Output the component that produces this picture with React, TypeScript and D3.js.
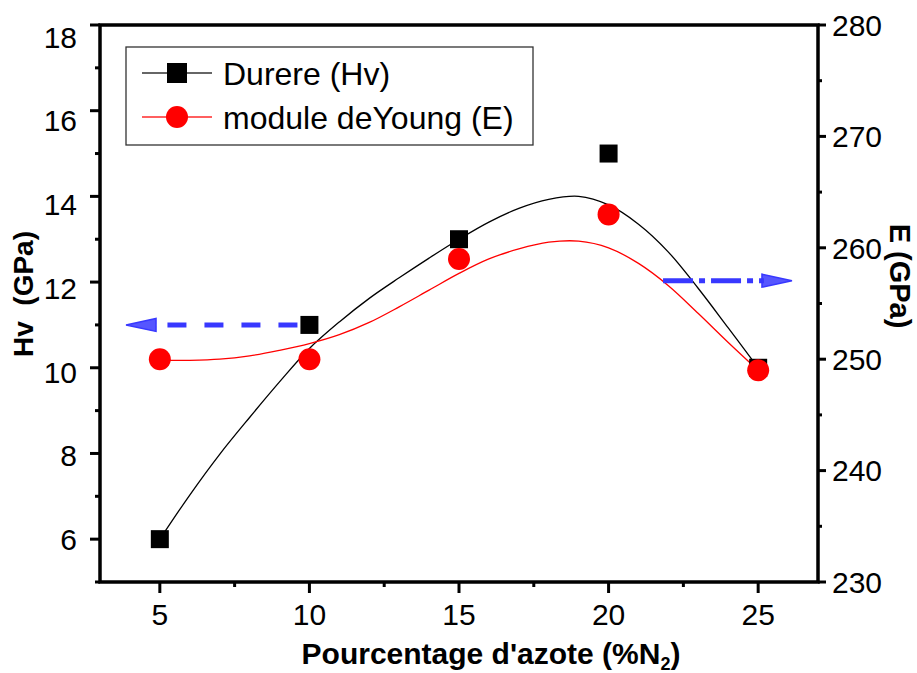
import React, { useEffect } from "react";
import * as d3 from "d3";

// measured points
const nitrogen = [5, 10, 15, 20, 25];
const hardness = [6, 11, 13, 15, 10];
const youngModulus = [250, 250, 259, 263, 249];

// fitted curves
const fitX = [5, 6, 7, 8, 9, 10, 11, 12, 13, 14, 15, 16, 17, 18, 19, 20, 21, 22, 23, 24, 25];
const hardnessFit = [6.0, 7.03, 7.98, 8.84, 9.67, 10.45, 11.07, 11.62, 12.1, 12.56, 13.0, 13.4, 13.72, 13.93, 14.0, 13.8, 13.35, 12.7, 11.85, 10.93, 10.0];
const modulusFit = [249.9, 249.9, 250.0, 250.3, 250.8, 251.4, 252.2, 253.3, 254.7, 256.2, 257.7, 259.0, 259.9, 260.5, 260.6, 260.0, 258.6, 256.6, 254.1, 251.5, 249.0];

const xTicks = [5, 10, 15, 20, 25];
const xMinor = [7.5, 12.5, 17.5, 22.5];
const hvTicks = [6, 8, 10, 12, 14, 16, 18];
const hvMinor = [5, 7, 9, 11, 13, 15, 17];
const eTicks = [230, 240, 250, 260, 270, 280];
const eMinor = [235, 245, 255, 265, 275];

// axis pointers: [from x, to x, value]
const hvPointer = [9.6, 3.87, 11];
const ePointer = [21.82, 26.13, 257.05];

const W = 917;
const H = 673;
const FONT = "'Liberation Sans', Arial, sans-serif";
const BLUE = "#3838ff";

export default function App() {
  useEffect(() => {
    document.body.style.margin = "0";
  }, []);

  const x = d3.scaleLinear().domain([3, 27]).range([100, 818]);
  const yL = d3.scaleLinear().domain([5, 18]).range([582, 25]);
  const yR = d3.scaleLinear().domain([230, 280]).range([582, 25]);

  const hvLine = d3
    .line<number>()
    .x((_, i) => x(fitX[i]))
    .y((d) => yL(d))
    .curve(d3.curveCatmullRom);
  const eLine = d3
    .line<number>()
    .x((_, i) => x(fitX[i]))
    .y((d) => yR(d))
    .curve(d3.curveCatmullRom);

  const [x0, x1] = x.range();
  const [yb, yt] = yL.range();

  // pointer arrows
  const lpY = yL(hvPointer[2]);
  const lpTip = x(hvPointer[1]);
  const lpStart = x(hvPointer[0]);
  const rpY = yR(ePointer[2]);
  const rpTip = x(ePointer[1]);
  const rpStart = x(ePointer[0]);
  const headLen = 30;

  return (
    <svg width={W} height={H} style={{ display: "block", background: "#fff" }} fontFamily={FONT}>
      {/* curves */}
      <path d={hvLine(hardnessFit) ?? ""} fill="none" stroke="#000" strokeWidth={1.3} />
      <path d={eLine(modulusFit) ?? ""} fill="none" stroke="#ff0000" strokeWidth={1.3} />

      {/* arrows */}
      <line x1={lpStart} x2={lpTip + headLen - 2} y1={lpY} y2={lpY} stroke={BLUE} strokeWidth={5} strokeDasharray="19 18" />
      <path
        d={`M${lpTip},${lpY} L${lpTip + headLen},${lpY - 6.5} L${lpTip + headLen},${lpY + 6.5} Z`}
        fill={BLUE}
        fillOpacity={0.85}
        stroke={BLUE}
        strokeWidth={1.5}
      />
      <line x1={rpStart} x2={rpTip - headLen + 2} y1={rpY} y2={rpY} stroke={BLUE} strokeWidth={5} strokeDasharray="30 6 6 6" />
      <path
        d={`M${rpTip},${rpY} L${rpTip - headLen},${rpY - 6.5} L${rpTip - headLen},${rpY + 6.5} Z`}
        fill={BLUE}
        fillOpacity={0.85}
        stroke={BLUE}
        strokeWidth={1.5}
      />

      {/* markers */}
      {nitrogen.map((n, i) => (
        <rect key={"s" + n} x={x(n) - 9} y={yL(hardness[i]) - 9} width={18} height={18} fill="#000" />
      ))}
      {nitrogen.map((n, i) => (
        <circle key={"c" + n} cx={x(n)} cy={yR(youngModulus[i])} r={11} fill="#ff0000" />
      ))}

      {/* frame */}
      <rect x={x0} y={yt} width={x1 - x0} height={yb - yt} fill="none" stroke="#000" strokeWidth={3.5} />

      {/* bottom axis */}
      {xTicks.map((t) => (
        <g key={"xt" + t}>
          <line x1={x(t)} x2={x(t)} y1={yb} y2={yb + 11} stroke="#000" strokeWidth={3} />
          <text x={x(t)} y={yb + 43} textAnchor="middle" fontSize={30}>
            {t}
          </text>
        </g>
      ))}
      {xMinor.map((t) => (
        <line key={"xm" + t} x1={x(t)} x2={x(t)} y1={yb} y2={yb + 5} stroke="#000" strokeWidth={3} />
      ))}

      {/* left axis */}
      {hvTicks.map((t) => (
        <g key={"lt" + t}>
          <line x1={x0 - 10} x2={x0} y1={yL(t)} y2={yL(t)} stroke="#000" strokeWidth={3} />
          <text x={x0 - 23} y={yL(t) + (t - 6)} dy="0.36em" textAnchor="end" fontSize={30}>
            {t}
          </text>
        </g>
      ))}
      {hvMinor.map((t) => (
        <line key={"lm" + t} x1={x0 - 5} x2={x0} y1={yL(t)} y2={yL(t)} stroke="#000" strokeWidth={3} />
      ))}

      {/* right axis */}
      {eTicks.map((t) => (
        <g key={"rt" + t}>
          <line x1={x1} x2={x1 + 8} y1={yR(t)} y2={yR(t)} stroke="#000" strokeWidth={3} />
          <text x={x1 + 14} y={yR(t)} dy="0.36em" textAnchor="start" fontSize={30}>
            {t}
          </text>
        </g>
      ))}
      {eMinor.map((t) => (
        <line key={"rm" + t} x1={x1} x2={x1 + 4} y1={yR(t)} y2={yR(t)} stroke="#000" strokeWidth={3} />
      ))}

      {/* axis titles */}
      <text x={491} y={664} textAnchor="middle" fontSize={30} fontWeight="bold">
        Pourcentage d'azote (%N
        <tspan fontSize={18} dy={6}>2</tspan>
        <tspan dy={-6}>)</tspan>
      </text>
      <text transform="translate(33,294) rotate(-90)" textAnchor="middle" fontSize={28} fontWeight="bold" xmlSpace="preserve">
        {"Hv  (GPa)"}
      </text>
      <text transform="translate(890,276) rotate(90)" textAnchor="middle" fontSize={29} fontWeight="bold">
        E (GPa)
      </text>

      {/* legend */}
      <rect x={126} y={47} width={407} height={98} fill="#fff" stroke="#333" strokeWidth={1.3} />
      <line x1={142} x2={212} y1={73} y2={73} stroke="#333" strokeWidth={1.5} />
      <rect x={167} y={63} width={20} height={20} fill="#000" />
      <text x={223} y={73} dy="0.36em" fontSize={32}>
        Durere (Hv)
      </text>
      <line x1={142} x2={212} y1={117} y2={117} stroke="#ff2a2a" strokeWidth={1.5} />
      <circle cx={177} cy={117} r={11} fill="#ff0000" />
      <text x={223} y={117} dy="0.36em" fontSize={32}>
        module deYoung (E)
      </text>
    </svg>
  );
}
